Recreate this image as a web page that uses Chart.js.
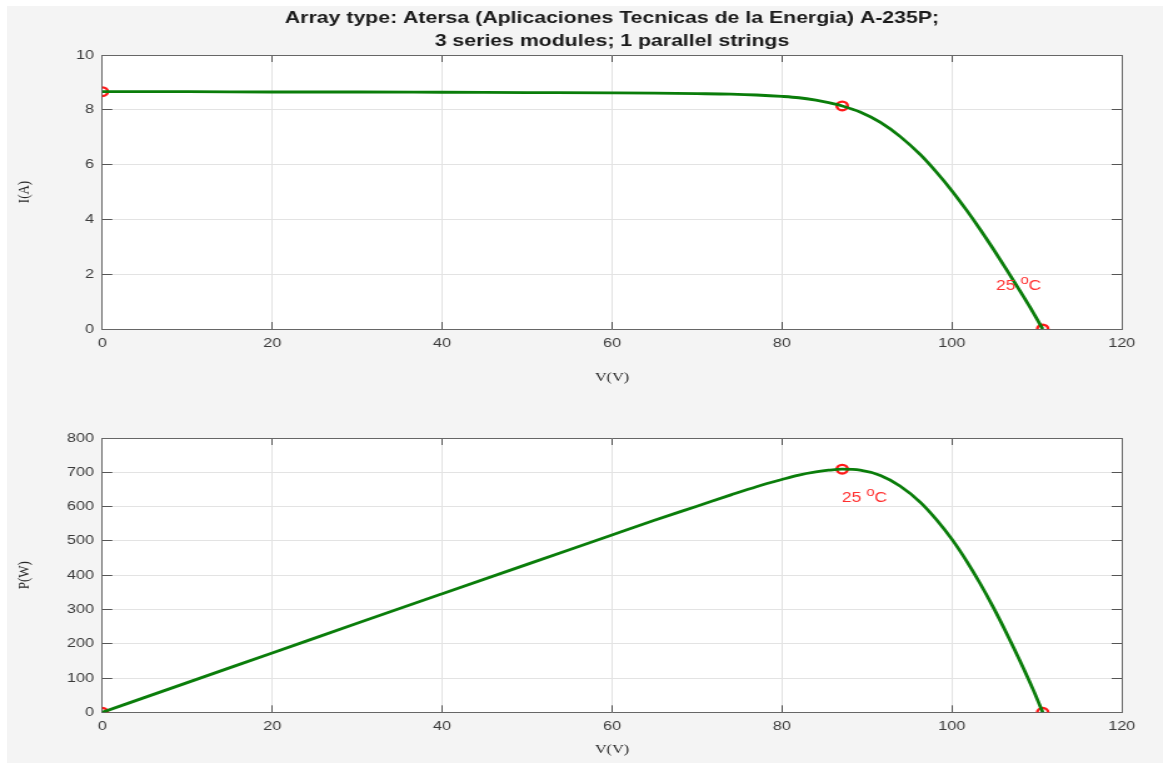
<!DOCTYPE html>
<html lang="en">
<head>
<meta charset="UTF-8">
<title>Array type: Atersa A-235P</title>
<script src="https://cdn.jsdelivr.net/npm/chart.js"></script>
<style>
  html, body { margin: 0; padding: 0; background: #fff; width: 1163px; height: 763px; overflow: hidden; }
  #fig { position: absolute; left: 7px; top: 6px; right: 0; bottom: 0; background: #f4f4f4; }
  .wrap { position: absolute; left: 0; width: 930px; transform-origin: 0 0; transform: scaleX(1.2505); }
</style>
</head>
<body>
<div id="fig"></div>
<div class="wrap" style="top:0;height:395px"><canvas id="ivChart" width="930" height="395"></canvas></div>
<div class="wrap" style="top:395px;height:368px"><canvas id="pvChart" width="930" height="368"></canvas></div>

<script>
// values
const voltage = [0, 10, 20, 30, 40, 50, 60, 65, 70, 74, 77, 80, 82, 84, 85.5, 87.1, 89.2, 91.6, 93.9, 96.3, 98.2, 100, 101.8, 103.3, 104.9, 106.5, 108, 109.6, 110.7];
const current = [8.66, 8.66, 8.65, 8.65, 8.64, 8.63, 8.62, 8.61, 8.59, 8.57, 8.54, 8.49, 8.44, 8.35, 8.26, 8.14, 7.92, 7.54, 7.03, 6.36, 5.72, 5.05, 4.31, 3.65, 2.91, 2.14, 1.40, 0.59, 0];
const power = [0, 86.6, 173, 259.5, 345.6, 431.5, 517, 560, 601, 634, 658, 679, 692, 701, 706, 709, 706.5, 690.7, 660.1, 612.5, 561.7, 505, 438.8, 377, 305.3, 227.9, 151.2, 64.7, 0];

// marked points: short circuit, max power, open circuit
const markV = [0, 87.1, 110.7];
const markI = [8.66, 8.14, 0];
const markP = [0, 709, 0];

// temperature labels (data coords, left/middle anchored)
const ivLabel = { x: 105.2, y: 1.58, text: '25', sup: 'o', tail: 'C' };
const pvLabel = { x: 87.06, y: 626, text: '25', sup: 'o', tail: 'C' };

const vTicks = [0, 20, 40, 60, 80, 100, 120];
const iTicks = [0, 2, 4, 6, 8, 10];
const pTicks = [0, 100, 200, 300, 400, 500, 600, 700, 800];

const titleLines = ['Array type: Atersa (Aplicaciones Tecnicas de la Energia) A-235P;', '3 series modules; 1 parallel strings'];

const SANS = "'Liberation Sans', Arial, sans-serif";
const SERIF = "'Liberation Serif', 'Times New Roman', serif";
const GREEN = '#0a7d0a';
const RED = '#ff1a1a';

const plotBg = {
  id: 'plotBg',
  beforeDraw(chart) {
    const a = chart.chartArea, ctx = chart.ctx;
    ctx.save();
    ctx.fillStyle = '#fff';
    ctx.fillRect(a.left, a.top, a.right - a.left, a.bottom - a.top);
    ctx.restore();
  }
};

function tempLabel(lbl) {
  return {
    id: 'tempLabel',
    afterDatasetsDraw(chart) {
      const ctx = chart.ctx;
      const px = chart.scales.x.getPixelForValue(lbl.x);
      const py = chart.scales.y.getPixelForValue(lbl.y);
      ctx.save();
      ctx.fillStyle = '#ff3030';
      ctx.textBaseline = 'middle';
      ctx.textAlign = 'left';
      ctx.font = '14px ' + SANS;
      const t = lbl.text + ' ';
      ctx.fillText(t, px, py);
      let x = px + ctx.measureText(t).width;
      ctx.font = '12px ' + SANS;
      ctx.fillText(lbl.sup, x, py - 5);
      x += ctx.measureText(lbl.sup).width;
      ctx.font = '14px ' + SANS;
      ctx.fillText(lbl.tail, x, py);
      ctx.restore();
    }
  };
}

function makeChart(id, yVals, markY, yTicks, yMax, yTitle, lbl, opts) {
  const line = voltage.map((v, i) => ({ x: v, y: yVals[i] }));
  const marks = markV.map((v, i) => ({ x: v, y: markY[i] }));
  const setTicks = list => s => { s.ticks = list.map(v => ({ value: v })); };
  return new Chart(document.getElementById(id), {
    type: 'line',
    data: {
      datasets: [
        { data: line, borderColor: GREEN, borderWidth: 2.8, pointRadius: 0, cubicInterpolationMode: 'monotone', fill: false },
        { data: marks, showLine: false, pointRadius: 4.3, pointBorderWidth: 2.4, pointBorderColor: RED, pointBackgroundColor: 'rgba(0,0,0,0)' }
      ]
    },
    options: {
      responsive: false,
      animation: false,
      events: [],
      layout: { padding: { left: 0, right: 33, top: opts.padTop, bottom: 0 } },
      plugins: {
        legend: { display: false },
        tooltip: { enabled: false },
        title: opts.title ? {
          display: true, text: titleLines, fullSize: false, color: '#1a1a1a',
          font: { family: SANS, size: 17, weight: 'bold', lineHeight: '23px' },
          padding: { top: 6.5, bottom: 2.5 }
        } : { display: false }
      },
      scales: {
        x: {
          type: 'linear', position: 'bottom', min: 0, max: 120,
          afterBuildTicks: setTicks(vTicks),
          afterFit: s => { s.height = opts.xHeight; },
          grid: { color: '#e3e3e3', tickColor: '#555', tickLength: -7, lineWidth: 1 },
          border: { color: '#666', width: 1 },
          ticks: { color: '#3a3a3a', padding: 13.2, maxRotation: 0, font: { family: SANS, size: 13 } },
          title: { display: true, text: 'V(V)', color: '#262626', font: { family: SERIF, size: 13 }, padding: { top: 2, bottom: opts.xTitlePad } }
        },
        x2: {
          type: 'linear', position: 'top', min: 0, max: 120,
          afterBuildTicks: setTicks(vTicks),
          afterFit: s => { s.height = 0; },
          grid: { drawOnChartArea: false, tickColor: '#555', tickLength: -7 },
          border: { color: '#666', width: 1 },
          ticks: { display: false }
        },
        y: {
          type: 'linear', position: 'left', min: 0, max: yMax,
          afterBuildTicks: setTicks(yTicks),
          afterFit: s => { s.width = 81.8; },
          grid: { color: '#e3e3e3', tickColor: '#555', tickLength: -8, lineWidth: 1 },
          border: { color: '#666', width: 1 },
          ticks: { color: '#3a3a3a', padding: 14.5, font: { family: SANS, size: 13 } },
          title: { display: true, text: yTitle, color: '#262626', font: { family: SERIF, size: 13 }, padding: { top: 12, bottom: 0 } }
        },
        y2: {
          type: 'linear', position: 'right', min: 0, max: yMax,
          afterBuildTicks: setTicks(yTicks),
          afterFit: s => { s.width = 0; },
          grid: { drawOnChartArea: false, tickColor: '#555', tickLength: -8 },
          border: { color: '#666', width: 1 },
          ticks: { display: false }
        }
      }
    },
    plugins: [plotBg, tempLabel(lbl)]
  });
}

makeChart('ivChart', current, markI, iTicks, 10, 'I(A)', ivLabel,
  { title: true, padTop: 0, xHeight: 66, xTitlePad: 9.2 });
makeChart('pvChart', power, markP, pTicks, 800, 'P(W)', pvLabel,
  { title: false, padTop: 43, xHeight: 50.7, xTitlePad: 5.2 });
</script>
</body>
</html>
